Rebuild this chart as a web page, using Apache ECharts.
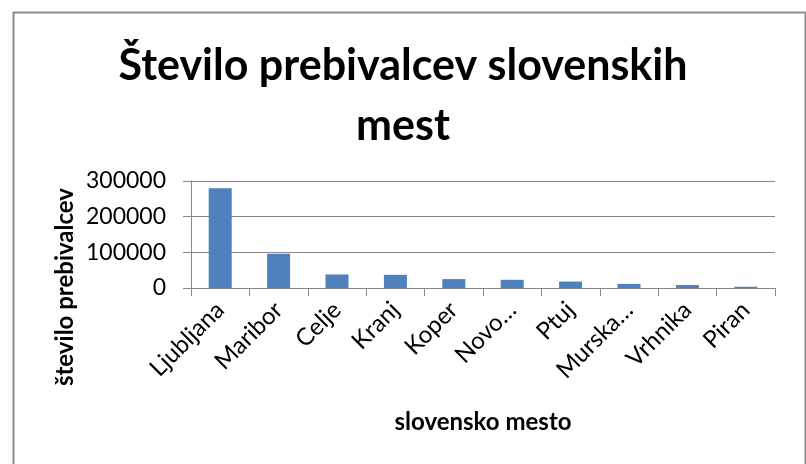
<!DOCTYPE html>
<html>
<head>
<meta charset="utf-8">
<script src="https://cdn.jsdelivr.net/npm/echarts@6/dist/echarts.min.js"></script>
<style>
html,body{margin:0;padding:0;background:#fff;}
#c{width:806px;height:464px;}
</style>
</head>
<body>
<div id="c"></div>
<script>
const titleText = "Število prebivalcev slovenskih\nmest";
const categories = ["Ljubljana","Maribor","Celje","Kranj","Koper","Novo…","Ptuj","Murska…","Vrhnika","Piran"];
const population = [280000, 96000, 38000, 37000, 25000, 23000, 18000, 11500, 8500, 3500];
const yTicks = {min: 0, max: 300000, interval: 100000};
const xTitle = "slovensko mesto";
const yTitle = "število prebivalcev";

const FONT = "Lato";
const chart = echarts.init(document.getElementById('c'), null, {renderer: 'canvas'});
chart.setOption({
  backgroundColor: '#fff',
  animation: false,
  title: {
    text: titleText,
    left: 'center',
    top: 31,
    textStyle: {fontFamily: FONT, fontWeight: 'bold', fontSize: 43, lineHeight: 60, color: '#000'}
  },
  graphic: [{
    type: 'rect', left: 11, top: 10,
    shape: {width: 792, height: 470},
    style: {fill: 'none', stroke: '#8c8c8c', lineWidth: 2}
  }, {
    type: 'text', x: 65, y: 287, rotation: Math.PI / 2,
    style: {text: yTitle, fontFamily: FONT, fontWeight: 'bold', fontSize: 24, fill: '#000', align: 'center', verticalAlign: 'middle'}
  }],
  grid: {left: 191, right: 31, top: 181, bottom: 176},
  xAxis: {
    type: 'category',
    data: categories,
    name: xTitle,
    nameLocation: 'middle',
    nameGap: 122,
    nameTextStyle: {fontFamily: FONT, fontWeight: 'bold', fontSize: 24, color: '#000'},
    axisLine: {lineStyle: {color: '#888', width: 1}},
    axisTick: {show: true, length: 8, lineStyle: {color: '#888'}},
    axisLabel: {rotate: 45, fontFamily: FONT, fontSize: 24, color: '#000', margin: 18, interval: 0}
  },
  yAxis: {
    type: 'value',
    min: yTicks.min, max: yTicks.max, interval: yTicks.interval,
    axisLine: {show: true, lineStyle: {color: '#888', width: 1}},
    axisTick: {show: true, length: 8, lineStyle: {color: '#888'}},
    splitLine: {show: true, lineStyle: {color: '#888', width: 1}},
    axisLabel: {fontFamily: FONT, fontSize: 23, color: '#000', margin: 25, formatter: v => String(v)}
  },
  series: [{
    type: 'bar',
    data: population,
    barWidth: 23,
    itemStyle: {color: '#4F81BD'}
  }]
});
</script>
</body>
</html>
